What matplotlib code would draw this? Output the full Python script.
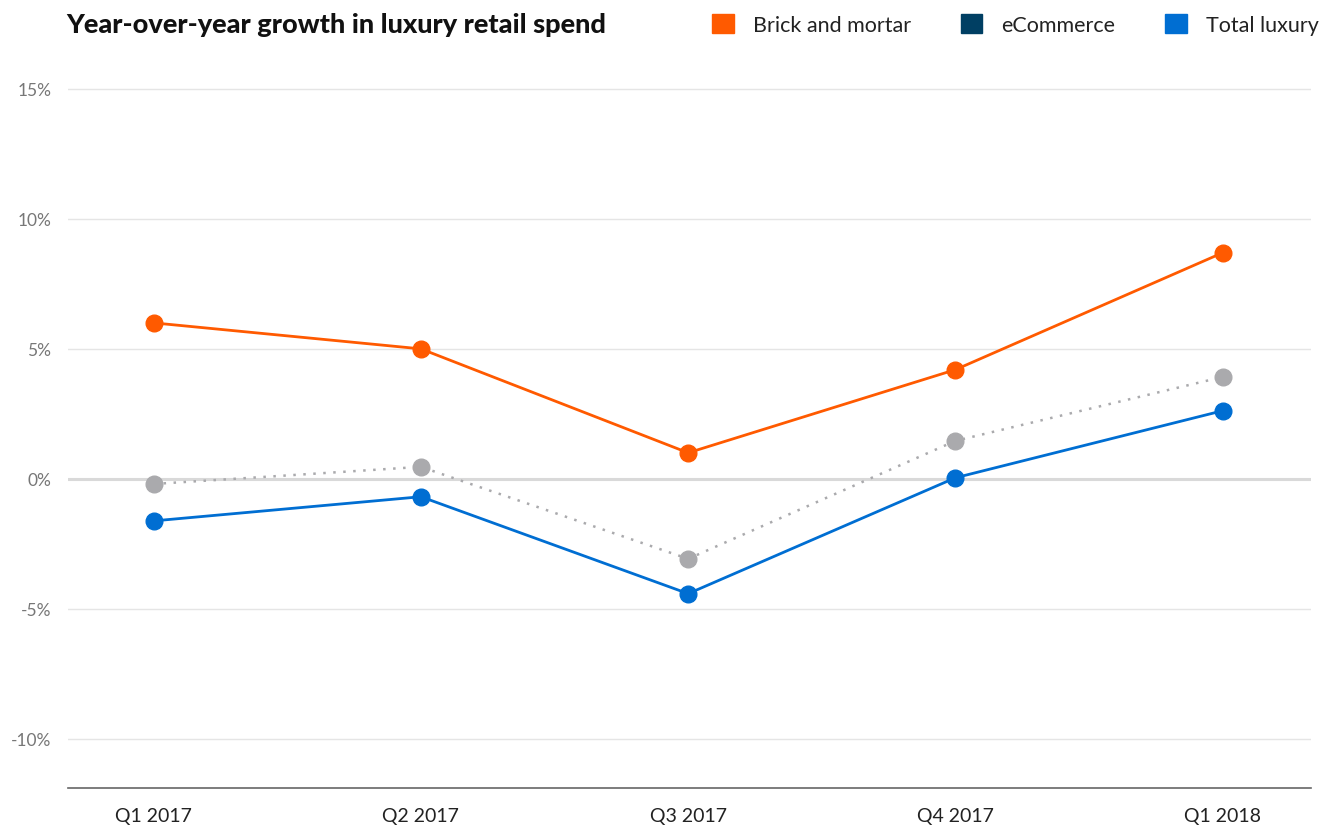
import matplotlib.pyplot as plt
from matplotlib.patches import Patch

quarters = ["Q1 2017", "Q2 2017", "Q3 2017", "Q4 2017", "Q1 2018"]
brick = [6.0, 5.0, 1.0, 4.2, 8.7]
ecommerce = [-0.2, 0.46, -3.08, 1.46, 3.92]
total = [-1.62, -0.69, -4.42, 0.04, 2.62]
yticks = [-10, -5, 0, 5, 10, 15]

orange = "#ff5a00"
navy = "#003f63"
blue = "#006ed2"
grey = "#aaaaad"

plt.rcParams['font.family'] = ['Lato', 'DejaVu Sans']

fig = plt.figure(figsize=(13.19, 8.37), dpi=100)
ax = fig.add_axes([0.0516, 0.0573, 0.9423, 0.8507])

x = range(len(quarters))
ax.plot(x, ecommerce, color=grey, lw=1.8, ls=(0, (1, 3)), marker='o', ms=12, zorder=3)
ax.plot(x, brick, color=orange, lw=2, marker='o', ms=12, zorder=4)
ax.plot(x, total, color=blue, lw=2, marker='o', ms=12, zorder=4)

ax.set_xlim(-0.32, 4.33)
ax.set_ylim(-11.9, 15.5)
ax.set_yticks(yticks)
ax.set_yticklabels([f"{t}%" for t in yticks])
ax.set_xticks(list(x))
ax.set_xticklabels(quarters)

for t in yticks:
    if t == 0:
        ax.axhline(t, color="#d9d9d9", lw=2.2, zorder=1)
    else:
        ax.axhline(t, color="#e5e5e5", lw=1, zorder=1)

for s in ["top", "right", "left"]:
    ax.spines[s].set_visible(False)
ax.spines["bottom"].set_color("#666666")
ax.spines["bottom"].set_linewidth(1.2)
ax.tick_params(axis='y', length=0, pad=12, labelsize=12.5, labelcolor="#777777")
ax.tick_params(axis='x', length=0, pad=14, labelsize=14, labelcolor="#222222")

fig.text(0.05, 0.970, "Year-over-year growth in luxury retail spend",
         fontsize=19.5, fontweight='black', va='center', ha='left', color="#111111")

handles = [Patch(color=orange, label="Brick and mortar"),
           Patch(color=navy, label="eCommerce"),
           Patch(color=blue, label="Total luxury")]
fig.legend(handles=handles, loc='center right', bbox_to_anchor=(1.0145, 0.970),
           ncol=3, frameon=False, fontsize=15.5, handlelength=1.0, handleheight=1.0,
           handletextpad=0.9, columnspacing=2.3, labelcolor="#222222")

fig.savefig("out.png", dpi=100)
